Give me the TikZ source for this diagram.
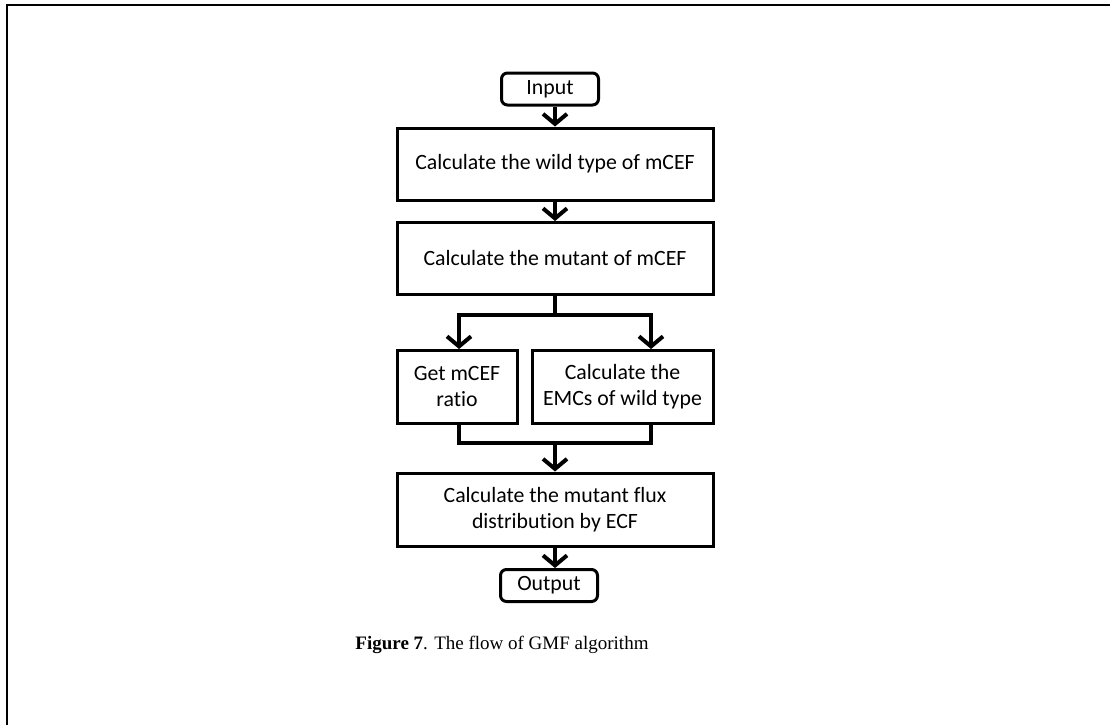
\documentclass[tikz,border=0pt]{standalone}
\usepackage{fontspec}
\setmainfont{Liberation Serif}
\newfontfamily\flowfont[Ligatures=NoCommon]{Carlito}
\usetikzlibrary{arrows.meta}
\begin{document}
\begin{tikzpicture}[x=1pt,y=-1pt,
  stepbox/.style={draw,line width=3pt,minimum width=316pt,minimum height=72pt,
    align=center,font=\flowfont\fontsize{21.8}{26}\selectfont,inner sep=0pt},
  halfbox/.style={stepbox,minimum width=120pt,minimum height=73pt},
  endbox/.style={draw,line width=3pt,rounded corners=6pt,minimum width=97pt,
    minimum height=32pt,inner sep=0pt,font=\flowfont\fontsize{21.8}{24}\selectfont},
  flow/.style={line width=4pt,-{Straight Barb[length=10pt,width=24pt,line width=4pt]}},
  link/.style={line width=4pt}]
\useasboundingbox (0,0) rectangle (1110,725);
% page frame (top and left edges)
\draw[line width=2.5pt] (7,725) -- (7,5) -- (1110,5);

\node[endbox] (in) at (550,89) {Input};
\node[stepbox] (wild) at (555,164) {Calculate the wild type of mCEF};
\node[stepbox] (mut) at (555,258.5) {Calculate the mutant of mCEF};
\node[halfbox] (ratio) at (457,386.5) {Get mCEF\\ratio};
\node[stepbox,minimum width=181pt,minimum height=73pt] (emc) at (622.5,386.5) {Calculate the\\EMCs of wild type};
\node[stepbox,minimum height=73pt] (flux) at (555,509.5) {Calculate the mutant flux\\distribution by ECF};
\node[endbox] (out) at (549,585.5) {Output};

\coordinate (split) at (555,315);
\coordinate (join) at (555,443);

\draw[flow] (in.south -| wild.north) -- (wild.north);
\draw[flow] (wild) -- (mut);
\draw[link] (mut.south) -- (split);
\draw[link] (split -| 459,0) -- (split -| 651,0);
\draw[flow] (459,313) -- (459,349);
\draw[flow] (651,313) -- (651,349);
\draw[link] (ratio.south -| 459,0) -- (459,445);
\draw[link] (emc.south -| 651,0) -- (651,445);
\draw[link] (459,443) -- (651,443);
\draw[flow] (join) -- (flux.north);
\draw[flow] (flux.south) -- (flux.south |- out.north);

\node[anchor=base,font=\fontsize{19}{22}\selectfont] (cap) at (502,649)
  {\textbf{Figure 7}. The flow of GMF algorithm};
\end{tikzpicture}
\end{document}
